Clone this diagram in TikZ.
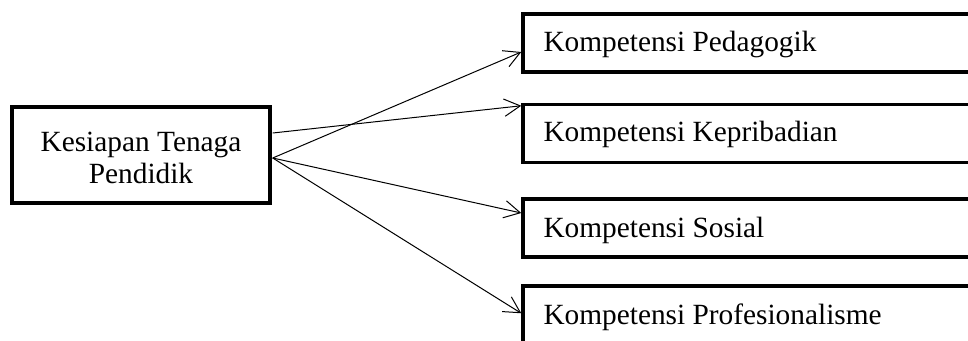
\documentclass[tikz,border=0pt]{standalone}
\usepackage{fontspec}
\setmainfont{Liberation Serif}
\usetikzlibrary{arrows.meta,calc}
\begin{document}
\begin{tikzpicture}[x=0.75pt,y=-0.75pt,
  box/.style={draw, line width=2.6pt, rectangle, inner sep=0pt},
  rbox/.style={box, minimum width=357.75pt, minimum height=43.5pt},
  txt/.style={font=\fontsize{22}{24}\selectfont, inner sep=0pt},
  conn/.style={line width=0.75pt, -{Straight Barb[length=12pt,width=13pt,line width=0.75pt]}}]
\useasboundingbox (0,0) rectangle (968,340);
\clip (0,0) rectangle (968,340);
\fill[white] (0,0) rectangle (968,340);
% left box
\node[box, minimum width=193.5pt, minimum height=72pt] (k) at (141,155) {};
\node[txt, align=center] (kt) at (141,158) {Kesiapan Tenaga\\Pendidik};
% right boxes
\node[rbox] (b1) at (761.5,43) {};
\node[rbox] (b2) at (761.5,133.5) {};
\node[rbox] (b3) at (761.5,228) {};
\node[rbox] (b4) at (761.5,315) {};
\node[txt, anchor=base west] (t1) at ($(b1.north west)+(22,39)$) {Kompetensi Pedagogik};
\node[txt, anchor=base west] (t2) at ($(b2.north west)+(22,39)$) {Kompetensi Kepribadian};
\node[txt, anchor=base west] (t3) at ($(b3.north west)+(22,40)$) {Kompetensi Sosial};
\node[txt, anchor=base west] (t4) at ($(b4.north west)+(22,40)$) {Kompetensi Profesionalisme};
% connectors
\coordinate (s1) at ($(k.east)+(1,-22)$);
\coordinate (s2) at ($(k.east)+(1,3)$);
\draw[conn] (s2) -- ($(b1.west)+(0,9)$);
\draw[conn] (s1) -- ($(b2.north west)+(0,3)$);
\draw[conn] (s2) -- ($(b3.west)+(0,-15)$);
\draw[conn] (s2) -- ($(b4.north west)+(0,29)$);
\end{tikzpicture}
\end{document}
